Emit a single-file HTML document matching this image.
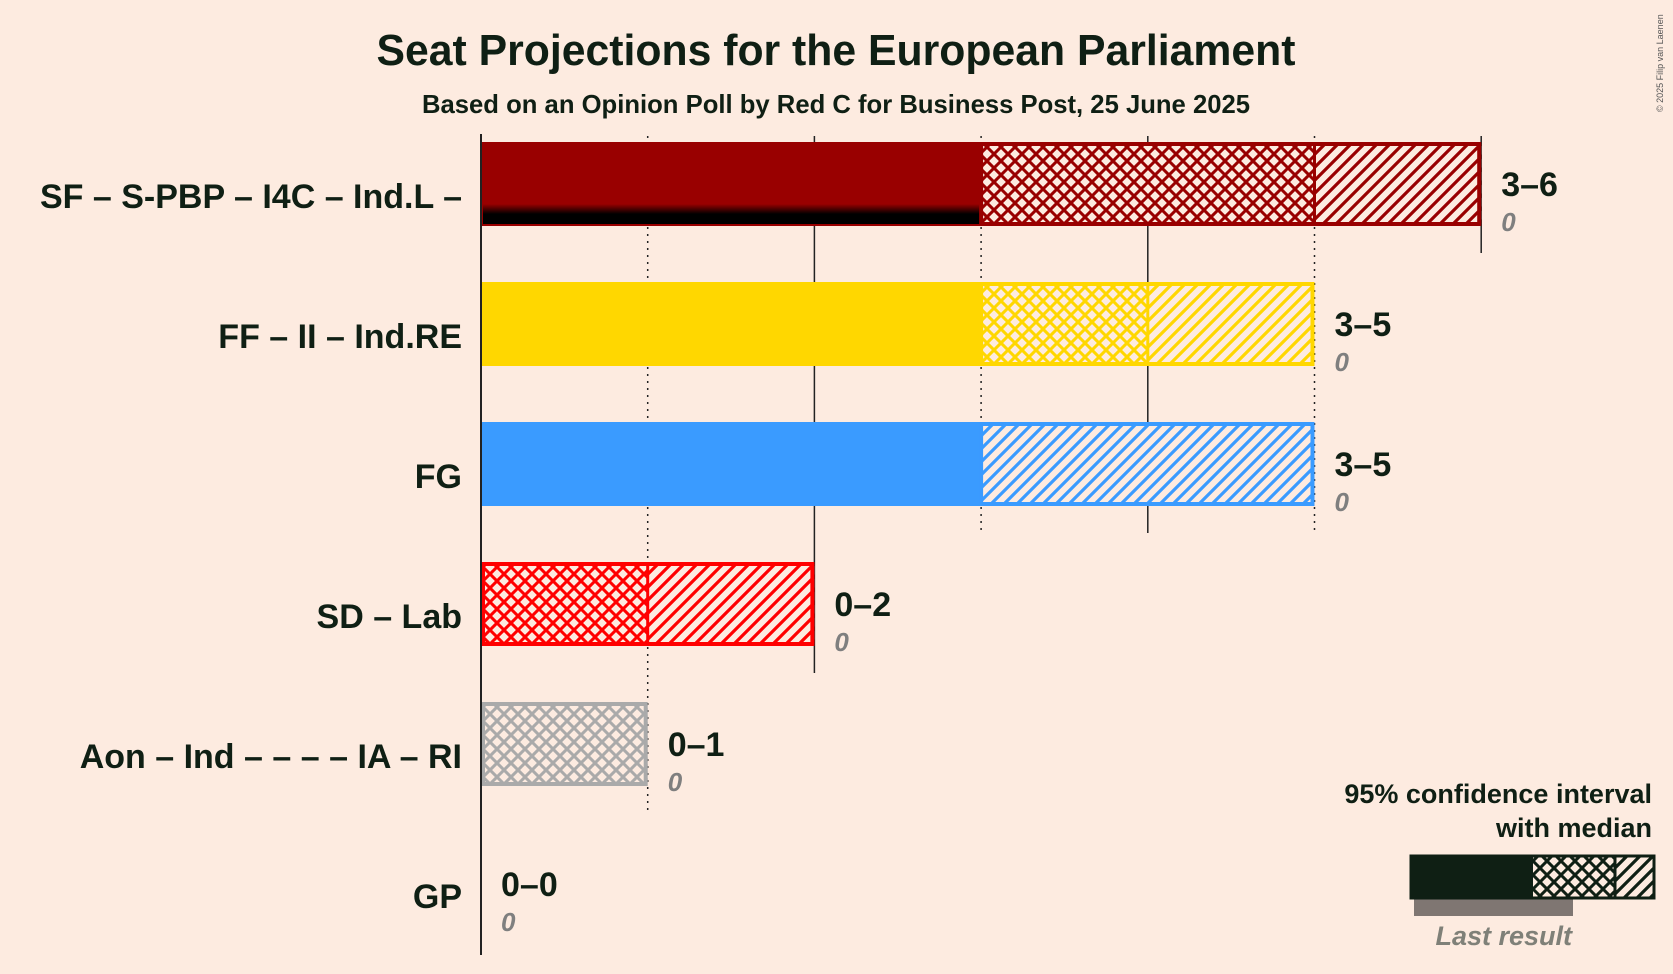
<!DOCTYPE html>
<html><head><meta charset="utf-8">
<style>
html,body{margin:0;padding:0;background:#FDEBE0;}
svg{display:block;font-family:"Liberation Sans",sans-serif;}
</style></head>
<body>
<svg id="chart" width="1673" height="974" viewBox="0 0 1673 974" xmlns="http://www.w3.org/2000/svg">
<defs>
  <linearGradient id="shadowGrad" x1="0" y1="0" x2="0" y2="1">
    <stop offset="0" stop-color="#000" stop-opacity="0"/>
    <stop offset="0.5" stop-color="#000" stop-opacity="1"/>
    <stop offset="1" stop-color="#000" stop-opacity="1"/>
  </linearGradient>
</defs>
<rect width="1673" height="974" fill="#FDEBE0"/>
<text x="836" y="65" text-anchor="middle" font-size="44" font-weight="bold" fill="#0F1F14" textLength="919" lengthAdjust="spacingAndGlyphs">Seat Projections for the European Parliament</text>
<text x="836" y="113" text-anchor="middle" font-size="26" font-weight="bold" fill="#0F1F14" textLength="828" lengthAdjust="spacingAndGlyphs">Based on an Opinion Poll by Red C for Business Post, 25 June 2025</text>
<text x="1663" y="112" font-size="9" fill="#555" transform="rotate(-90 1663 112)">© 2025 Filip van Laenen</text>
<g id="grid"></g>
<g id="plot"></g>
<g id="legend"></g>
</svg>
<script>
const categories = ["SF – S-PBP – I4C – Ind.L –", "FF – II – Ind.RE", "FG", "SD – Lab", "Aon – Ind – – – – IA – RI", "GP"];
const colors = ["#990000", "#FFD700", "#3A9BFF", "#FF0000", "#AAAAAA", "#22AA22"];
const ciLow = [3, 3, 3, 0, 0, 0];
const medians = [5, 4, 3, 1, 1, 0];
const ciHigh = [6, 5, 5, 2, 1, 0];
const lastResult = [0, 0, 0, 0, 0, 0];
const rangeLabels = ["3–6", "3–5", "3–5", "0–2", "0–1", "0–0"];
const lastLabels = ["0", "0", "0", "0", "0", "0"];

const NS = "http://www.w3.org/2000/svg";
const x0 = 481, unit = 166.7;
const xs = v => x0 + v * unit;
const rowTop = i => 142 + i * 140;
const barH = 84;
const bg = "#FDEBE0";
const svg = document.getElementById("chart");
const defs = svg.querySelector("defs");
const plot = document.getElementById("plot");
const grid = document.getElementById("grid");

function mk(tag, attrs, parent) {
  const e = document.createElementNS(NS, tag);
  for (const k in attrs) e.setAttribute(k, attrs[k]);
  parent.appendChild(e);
  return e;
}
function patterns(id, col) {
  const p1 = mk("pattern", {id: "cross" + id, patternUnits: "userSpaceOnUse", width: 14, height: 14}, defs);
  mk("rect", {width: 14, height: 14, fill: bg}, p1);
  mk("path", {d: "M-2,2 L2,-2 M0,14 L14,0 M12,16 L16,12 M-2,12 L2,16 M0,0 L14,14 M12,-2 L16,2", stroke: col, "stroke-width": 3}, p1);
  const p2 = mk("pattern", {id: "hatch" + id, patternUnits: "userSpaceOnUse", width: 13, height: 13}, defs);
  mk("rect", {width: 13, height: 13, fill: bg}, p2);
  mk("path", {d: "M-2,2 L2,-2 M0,13 L13,0 M11,15 L15,11", stroke: col, "stroke-width": 3.2}, p2);
}

// gridlines: continuous from top to below the last row reaching that seat value
const maxSeat = Math.max(...ciHigh);
for (let s = 1; s <= maxSeat; s++) {
  let last = -1;
  ciHigh.forEach((h, i) => { if (h >= s) last = i; });
  if (last < 0) continue;
  const gl = mk("line", {x1: xs(s), x2: xs(s), y1: 136, y2: rowTop(last) + barH + 27, stroke: "#222", "stroke-width": 1.5, "stroke-dasharray": s % 2 ? "2,5" : "none"}, grid);
  
  
}

categories.forEach((cat, i) => {
  patterns(i, colors[i]);
  const top = rowTop(i);
  const g = mk("g", {}, plot);
  
  
  if (ciLow[i] > 0) {
    const r = mk("rect", {x: xs(0), y: top, width: xs(ciLow[i]) - xs(0), height: barH, fill: colors[i]}, g);
    
    
  }
  if (i === 0) {
    const sh = mk("rect", {x: xs(0) + 2, y: top + barH - 22, width: xs(ciLow[i]) - xs(0) - 2, height: 20, fill: "url(#shadowGrad)"}, g);
    
    
  }
  if (medians[i] > ciLow[i]) {
    const r = mk("rect", {x: xs(ciLow[i]), y: top + 2, width: xs(medians[i]) - xs(ciLow[i]), height: barH - 4, fill: "url(#cross" + i + ")"}, g);
    
    
  }
  if (ciHigh[i] > medians[i]) {
    const r = mk("rect", {x: xs(medians[i]), y: top + 2, width: xs(ciHigh[i]) - xs(medians[i]), height: barH - 4, fill: "url(#hatch" + i + ")"}, g);
    
    
  }
  if (ciHigh[i] > ciLow[i]) {
    const o = mk("rect", {x: xs(ciLow[i]) + (ciLow[i] > 0 ? 0 : 2), y: top + 2, width: xs(ciHigh[i]) - xs(ciLow[i]) - (ciLow[i] > 0 ? 2 : 4), height: barH - 4, fill: "none", stroke: colors[i], "stroke-width": 4}, g);
    
    
    if (medians[i] > ciLow[i] && medians[i] < ciHigh[i]) {
      const m = mk("line", {x1: xs(medians[i]), x2: xs(medians[i]), y1: top, y2: top + barH, stroke: colors[i], "stroke-width": 3}, g);
      
      
    }
  }
  const lab = mk("text", {x: 462, y: top + barH / 2 + 24, "text-anchor": "end", "font-size": 34, "font-weight": "bold", fill: "#0F1F14"}, g);
  lab.textContent = cat;
  
  
  const ex = xs(ciHigh[i]) + 20;
  const rl = mk("text", {x: ex, y: top + 54, "font-size": 34, "font-weight": "bold", fill: "#0F1F14"}, g);
  rl.textContent = rangeLabels[i];
  
  
  const ll = mk("text", {x: ex, y: top + 89, "font-size": 26, "font-weight": "bold", "font-style": "italic", fill: "#7F7F7F"}, g);
  ll.textContent = lastLabels[i];
  
  
});
const ax = mk("line", {x1: xs(0), x2: xs(0), y1: 134, y2: 955, stroke: "#222", "stroke-width": 2}, plot);



// legend
const lg = document.getElementById("legend");
patterns("L", "#0F1F14");
const t1 = mk("text", {x: 1652, y: 803, "text-anchor": "end", "font-size": 27, "font-weight": "bold", fill: "#0F1F14"}, lg);
t1.textContent = "95% confidence interval";


const t2 = mk("text", {x: 1652, y: 837, "text-anchor": "end", "font-size": 27, "font-weight": "bold", fill: "#0F1F14"}, lg);
t2.textContent = "with median";


const gr = mk("rect", {x: 1414, y: 898, width: 159, height: 18, fill: "#7F7672"}, lg);


const l1 = mk("rect", {x: 1411, y: 855, width: 122, height: 44, fill: "#0F1F14"}, lg);


const l2 = mk("rect", {x: 1533, y: 857, width: 82, height: 40, fill: "url(#crossL)"}, lg);


const l3 = mk("rect", {x: 1615, y: 857, width: 38, height: 40, fill: "url(#hatchL)"}, lg);


const lo = mk("rect", {x: 1411, y: 856, width: 243, height: 42, fill: "none", stroke: "#0F1F14", "stroke-width": 3}, lg);


const lm = mk("line", {x1: 1615, x2: 1615, y1: 856, y2: 898, stroke: "#0F1F14", "stroke-width": 3}, lg);


const t3 = mk("text", {x: 1572, y: 945, "text-anchor": "end", "font-size": 27, "font-weight": "bold", "font-style": "italic", fill: "#7F8078"}, lg);
t3.textContent = "Last result";


</script>
</body></html>
